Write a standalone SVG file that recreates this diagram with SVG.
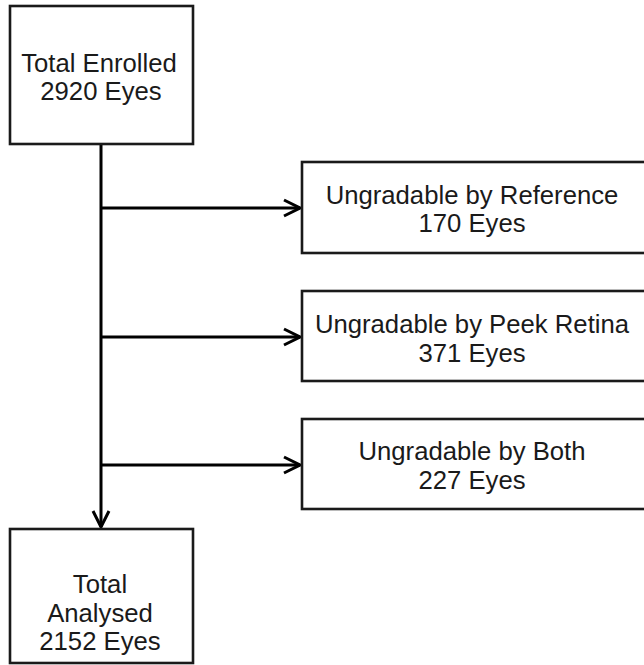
<svg xmlns="http://www.w3.org/2000/svg" width="644" height="665" viewBox="0 0 644 665">
<defs>
<style>
.box{fill:#fff;stroke:#1a1a1a;stroke-width:2.6}
.t{font-family:"Liberation Sans",Arial,sans-serif;font-size:25.7px;fill:#1a1a1a;text-anchor:middle}
.c{fill:none;stroke:#000;stroke-width:3}
</style>
<marker id="ah" viewBox="0 0 20 20" refX="18" refY="10" markerWidth="20" markerHeight="20" markerUnits="userSpaceOnUse" orient="auto">
<path d="M2,2 L18,10 L2,18" fill="none" stroke="#000" stroke-width="3" stroke-linejoin="miter"/>
</marker>
</defs>
<rect width="644" height="665" fill="#fff"/>
<g id="connectors">
<line class="c" x1="101" y1="144" x2="101" y2="527" marker-end="url(#ah)"/>
<line class="c" x1="101" y1="208" x2="300" y2="208" marker-end="url(#ah)"/>
<line class="c" x1="101" y1="337" x2="300" y2="337" marker-end="url(#ah)"/>
<line class="c" x1="101" y1="465" x2="300" y2="465" marker-end="url(#ah)"/>
</g>
<g id="enrolled">
<rect class="box" x="10" y="6" width="183" height="138"/>
<text class="t" x="99" y="72">Total Enrolled</text>
<text class="t" x="101" y="100">2920 Eyes</text>
</g>
<g id="ungrad-ref">
<rect class="box" x="302" y="162" width="360" height="91"/>
<text class="t" x="472" y="204">Ungradable by Reference</text>
<text class="t" x="472" y="232">170 Eyes</text>
</g>
<g id="ungrad-peek">
<rect class="box" x="302" y="291" width="360" height="90"/>
<text class="t" x="472" y="333">Ungradable by Peek Retina</text>
<text class="t" x="472" y="362">371 Eyes</text>
</g>
<g id="ungrad-both">
<rect class="box" x="302" y="419" width="360" height="90"/>
<text class="t" x="472" y="460">Ungradable by Both</text>
<text class="t" x="472" y="489">227 Eyes</text>
</g>
<g id="analysed">
<rect class="box" x="10" y="529" width="183" height="134"/>
<text class="t" x="100" y="593">Total</text>
<text class="t" x="100" y="622">Analysed</text>
<text class="t" x="100" y="650">2152 Eyes</text>
</g>
</svg>
